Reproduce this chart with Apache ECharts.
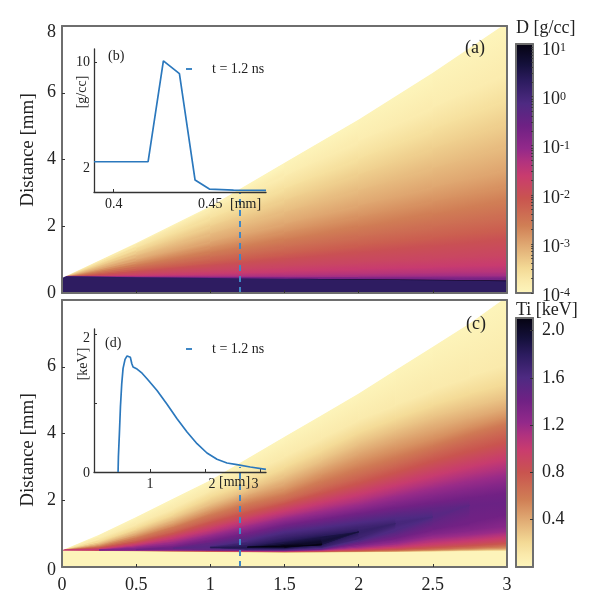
<!DOCTYPE html>
<html><head><meta charset="utf-8">
<style>html,body{margin:0;padding:0;background:#fff}#c{width:600px;height:610px}</style>
<script src="https://cdn.jsdelivr.net/npm/echarts@6/dist/echarts.min.js"></script>
</head><body><div id="c"></div>
<script>
const COLOR_STOPS = [[0,'#fdf5bc'],[.05,'#fae9ab'],[.10,'#f3d995'],[.19,'#e0aa73'],[.27,'#d07f55'],[.38,'#c9544f'],[.47,'#c93c6e'],[.53,'#b0327f'],[.58,'#93298a'],[.67,'#6f2184'],[.76,'#4e2a82'],[.85,'#2d1c60'],[.92,'#14103a'],[1,'#050312']];
const BOUNDARY_A = [.45,1.5,2.6,3.9,5.2,6.6,8.1];
const COLUMNS_A = [0,.5,1,1.5,2,2.5,3];
const D_LEVELS = [-3.8,-3.6,-3.4,-3.2,-3.0,-2.8,-2.6,-2.4,-2.2,-2.0,-1.8,-1.6,-1.4,-1.2,-0.7,0.3,0.9];
const D_UPPER = [
 [.45,1.45,2.5,3.5,4.55,5.55,6.6],
 [.45,1.34,2.23,3.12,4.02,4.91,5.8],
 [.45,1.22,2.0,2.78,3.55,4.33,5.1],
 [.45,1.11,1.77,2.42,3.08,3.74,4.4],
 [.45,.99,1.53,2.07,2.62,3.16,3.7],
 [.45,.91,1.37,1.82,2.28,2.74,3.2],
 [.45,.83,1.22,1.6,1.98,2.37,2.75],
 [.45,.76,1.07,1.37,1.68,1.99,2.3],
 [.45,.69,.93,1.17,1.42,1.66,1.9],
 [.45,.64,.83,1.02,1.22,1.41,1.6],
 [.45,.57,.68,.8,.92,1.03,1.15],
 [.45,.52,.58,.65,.72,.78,.85],
 [.47,.49,.52,.55,.58,.62,.65],
 [.5,.49,.49,.49,.5,.52,.53],
 [.5,.48,.47,.46,.45,.44,.43],
 [.5,.47,.45,.43,.41,.39,.37],
 [null,null,null,.43,.41,.395,.375]
];
const D_LOWER_BLACK = [null,null,null,.43,.395,.38,.355];

const COLUMNS_C = [0,.25,.5,.75,1,1.25,1.5,1.75,2,2.25,2.5,2.75,3];
const BOUNDARY_C = [.5,.97,1.5,2.05,2.6,3.25,3.9,4.55,5.2,5.9,6.6,7.3,8.1];
const TI_LEVELS = [.1,.2,.3,.4,.5,.6,.7,.8,.9,1.0,1.1,1.2,1.3,1.4,1.5,1.6,1.7,1.8,1.9,2.0,2.1];
const n = null;
const TI_UPPER = [
 [.5,.85,1.28,1.75,2.3,2.78,3.3,3.85,4.4,4.85,5.3,5.7,6.1],
 [.5,.76,1.15,1.58,2.1,2.5,2.98,3.5,4.03,4.45,4.85,5.2,5.5],
 [.5,.71,1.06,1.45,1.9,2.3,2.72,3.2,3.72,4.12,4.5,4.8,5.08],
 [.5,.67,.98,1.35,1.77,2.15,2.5,2.97,3.43,3.82,4.17,4.47,4.75],
 [.5,.64,.92,1.25,1.65,2.02,2.3,2.75,3.17,3.52,3.85,4.2,4.5],
 [.5,.61,.86,1.18,1.55,1.88,2.15,2.55,2.92,3.27,3.62,3.98,4.3],
 [.5,.59,.8,1.08,1.42,1.75,2.0,2.35,2.7,3.05,3.4,3.75,4.05],
 [.5,.57,.75,1.0,1.33,1.62,1.9,2.2,2.5,2.83,3.17,3.47,3.75],
 [.5,.55,.71,.94,1.22,1.5,1.78,2.05,2.33,2.63,2.95,3.23,3.5],
 [.5,.53,.67,.87,1.13,1.42,1.67,1.92,2.17,2.45,2.73,3.0,3.25],
 [n,.52,.63,.8,1.03,1.3,1.55,1.78,2.0,2.27,2.53,2.78,3.0],
 [n,.51,.6,.72,.95,1.2,1.45,1.65,1.85,2.1,2.33,2.55,2.75],
 [n,.51,.56,.66,.87,1.1,1.35,1.53,1.72,1.93,2.13,2.32,2.5],
 [n,n,.52,.6,.78,1.0,1.25,1.42,1.6,1.77,1.92,2.07,2.2],
 [n,n,n,.56,.7,.9,1.15,1.3,1.47,1.62,1.75,1.85,n],
 [n,n,n,n,.6,.8,1.05,1.18,1.33,1.46,1.5,n,n],
 [n,n,n,n,.6,.7,.92,1.05,1.18,1.3,n,n,n],
 [n,n,n,n,.58,.62,.8,.95,1.05,n,n,n,n],
 [n,n,n,n,n,.585,.72,.88,1.05,n,n,n,n],
 [n,n,n,n,n,.59,.66,.75,n,n,n,n,n],
 [n,n,n,n,n,.6,.635,.66,n,n,n,n,n]
];
const TI_LOWER = [
 [.49,.48,.47,.46,.45,.44,.43,.435,.44,.45,.46,.47,.48],
 [.5,.485,.475,.465,.455,.445,.435,.44,.45,.46,.47,.49,.5],
 [.5,.49,.48,.47,.46,.45,.44,.445,.455,.47,.48,.5,.52],
 [.5,.49,.48,.47,.46,.45,.445,.45,.46,.475,.49,.515,.54],
 [.5,.495,.485,.475,.465,.455,.45,.455,.47,.48,.5,.535,.57],
 [.5,.5,.49,.48,.47,.46,.455,.46,.475,.49,.52,.56,.61],
 [.5,.5,.49,.48,.475,.465,.46,.47,.485,.505,.54,.59,.65],
 [.5,.505,.495,.485,.48,.47,.465,.475,.49,.525,.58,.64,.71],
 [.5,.51,.5,.49,.485,.475,.47,.48,.51,.555,.63,.7,.79],
 [.5,.515,.5,.495,.49,.48,.475,.49,.53,.59,.69,.78,.88],
 [n,.52,.5,.5,.495,.485,.48,.5,.56,.64,.78,.87,.98],
 [n,.51,.505,.505,.5,.49,.485,.51,.6,.7,.88,.97,1.08],
 [n,.51,.51,.51,.505,.495,.49,.52,.64,.77,.98,1.1,1.25],
 [n,n,.52,.52,.51,.5,.495,.53,.69,.86,1.12,1.32,1.6],
 [n,n,n,.56,.515,.51,.505,.54,.74,.97,1.33,1.85,n],
 [n,n,n,n,.6,.52,.515,.56,.79,1.1,1.5,n,n],
 [n,n,n,n,.6,.53,.53,.59,.86,1.3,n,n,n],
 [n,n,n,n,.58,.55,.55,.63,1.05,n,n,n,n],
 [n,n,n,n,n,.585,.57,.68,1.05,n,n,n,n],
 [n,n,n,n,n,.59,.585,.75,n,n,n,n,n],
 [n,n,n,n,n,.6,.6,.66,n,n,n,n,n]
];
const DENSITY_X = [.3898,.4178,.4257,.434,.4421,.4495,.462,.4788];
const DENSITY_Y = [2.25,2.25,10.08,9.09,.83,.13,.05,.03];
const TI_X = [.418,.424,.442,.461,.485,.509,.545,.582,.612,.642,.667,.691,.764,.855,.945,1.127,1.309,1.491,1.673,1.855,2.036,2.218,2.4,2.582,2.824,3.109];
const TI_Y = [0,.217,.556,.942,1.28,1.5,1.63,1.68,1.68,1.66,1.57,1.52,1.49,1.43,1.35,1.18,.98,.77,.58,.41,.275,.184,.13,.106,.072,.039];
const TIME_NS = 1.2;
const DASH_Y = [0,3.0];
const X_TICKS = [0,.5,1,1.5,2,2.5,3];
const Y_TICKS_A = [0,2,4,6,8];
const Y_TICKS_C = [0,2,4,6];
const D_BAR_TICKS = [-4,-3,-2,-1,0,1];
const D_BAR_MINOR = [2,3,4,5,6,7,8,9];
const TI_BAR_TICKS = [.4,.8,1.2,1.6,2.0];

// ---- helpers ----
const FONT='Liberation Serif', INK='#222', FRAME='#6e6e6e', BLUE='#2b78bd', DASH='#3f87c5';
const hex=c=>[1,3,5].map(i=>parseInt(c.substr(i,2),16));
function cmap(t){t=Math.max(0,Math.min(1,t));
 for(let i=1;i<COLOR_STOPS.length;i++){if(t<=COLOR_STOPS[i][0]){const [a,ca]=COLOR_STOPS[i-1],[b,cb]=COLOR_STOPS[i];const f=(t-a)/(b-a),A=hex(ca),B=hex(cb);return 'rgb('+A.map((v,k)=>Math.round(v+(B[k]-v)*f)).join(',')+')';}}
 return COLOR_STOPS[COLOR_STOPS.length-1][1];}
const tD=v=>(v+4)/5.07, tTi=v=>v/2.106;
function gapPiece(a1,a2,b1,b2,c0,c1){
 let dx=(a2[0]-a1[0])+(b2[0]-b1[0]),dy=(a2[1]-a1[1])+(b2[1]-b1[1]);const L=Math.hypot(dx,dy)||1;
 const nx=-dy/L,ny=dx/L,ma=[(a1[0]+a2[0])/2,(a1[1]+a2[1])/2],mb=[(b1[0]+b2[0])/2,(b1[1]+b2[1])/2];
 const d=(mb[0]-ma[0])*nx+(mb[1]-ma[1])*ny;
 const fill={type:'linear',global:true,x:ma[0],y:ma[1],x2:ma[0]+nx*d,y2:ma[1]+ny*d+(Math.abs(d)<.01?.01:0),colorStops:[{offset:0,color:c0},{offset:1,color:c1}]};
 return {type:'polygon',shape:{points:[a1,a2,b2,b1]},style:{fill,stroke:fill,lineWidth:.6}};
}
function filled(name,xi,columns,layers){
 return {type:'custom',name,xAxisIndex:xi,yAxisIndex:xi,coordinateSystem:'cartesian2d',clip:true,silent:true,z:2,animation:false,
  data:layers.map((l,i)=>[i,i]),
  renderItem(p,api){const l=layers[p.dataIndex],up=[],lo=[],kids=[];
   columns.forEach((x,i)=>{if(l.upper[i]==null)return;up.push(api.coord([x,l.upper[i]]));lo.unshift(api.coord([x,l.lower[i]]));});
   kids.push({type:'polygon',shape:{points:up.concat(lo)},style:{fill:l.color}});
   const nx=l.next;
   if(nx){
    const ridge=i=>(l.upper[i]+l.lower[i])/2;
    const nu=i=>nx.upper[i]!=null?nx.upper[i]:ridge(i), nl=i=>nx.lower[i]!=null?nx.lower[i]:ridge(i);
    for(let i=0;i<columns.length-1;i++){
     if(l.upper[i]==null||l.upper[i+1]==null)continue;
     if(nx.upper[i]==null&&nx.upper[i+1]==null)continue;
     const open=nx.upper[i]==null||nx.upper[i+1]==null;
     const c=(x,y)=>api.coord([x,y]),x1=columns[i],x2=columns[i+1];
     if(!l.gradLower&&open)continue;
     const toColor=open?l.midColor:nx.color;
     kids.push(gapPiece(c(x1,l.upper[i]),c(x2,l.upper[i+1]),c(x1,nu(i)),c(x2,nu(i+1)),l.color,toColor));
     if(l.gradLower)kids.push(gapPiece(c(x1,l.lower[i]),c(x2,l.lower[i+1]),c(x1,nl(i)),c(x2,nl(i+1)),l.color,toColor));
   }}
   return {type:'group',children:kids};}
 };}
function colorbar(xi,minV,maxV){return {type:'custom',xAxisIndex:xi,yAxisIndex:xi,coordinateSystem:'cartesian2d',silent:true,z:2,animation:false,data:[[0,minV]],
  renderItem(p,api){const a=api.coord([0,maxV]),b=api.coord([1,minV]);
   return {type:'rect',shape:{x:a[0],y:a[1],width:b[0]-a[0],height:b[1]-a[1]},style:{fill:{type:'linear',x:0,y:1,x2:0,y2:0,colorStops:COLOR_STOPS.map(s=>({offset:s[0],color:s[1]}))}}};}};}

const zerosA=COLUMNS_A.map(()=>0), zerosC=COLUMNS_C.map(()=>0);
const layersA=[{upper:BOUNDARY_A,lower:zerosA,color:cmap(.005)}].concat(D_LEVELS.map((v,i)=>(
 {upper:D_UPPER[i],lower:i===D_LEVELS.length-1?D_LOWER_BLACK:zerosA,color:cmap(tD(v))})));
layersA.forEach((l,i)=>{const v=i?D_LEVELS[i-1]:-9; if(v<-0.8&&layersA[i+1]){l.next=layersA[i+1];}});
layersA.push({upper:COLUMNS_A.map(()=>9),lower:BOUNDARY_A,color:'#ffffff'});
const layersC=[{upper:BOUNDARY_C,lower:zerosC,color:cmap(.005)}].concat(TI_LEVELS.map((v,i)=>(
 {upper:TI_UPPER[i],lower:TI_LOWER[i],color:cmap(tTi(v)),midColor:cmap(tTi(v+.04)),gradLower:true})));
layersC.forEach((l,i)=>{if(layersC[i+1])l.next=layersC[i+1];});
layersC.push({upper:COLUMNS_C.map(()=>9),lower:BOUNDARY_C,color:'#ffffff'});
layersC.push({upper:TI_LOWER[0],lower:zerosC,color:cmap(.005)});

const grids=[
 {left:62,top:26,width:445,height:267},
 {left:62,top:300,width:445,height:267},
 {left:516,top:44,width:17,height:249},
 {left:516,top:318,width:17,height:249},
 {left:94,top:49,width:172,height:143},
 {left:94,top:329,width:172,height:143}
];
const lab={fontFamily:FONT,color:INK,fontSize:18};
const none={show:false};
const frame={lineStyle:{color:FRAME,width:2}};
const inset={show:true,lineStyle:{color:'#333',width:1.3}};
const insetLabel={fontFamily:FONT,color:INK,fontSize:14};
const xAxes=[
 {gridIndex:0,min:0,max:3,axisLine:frame,splitLine:none,axisLabel:none,axisTick:{inside:true,length:3,customValues:X_TICKS.slice(1,-1),lineStyle:{color:'#333'}},z:5},
 {gridIndex:1,min:0,max:3,axisLine:frame,splitLine:none,axisLabel:Object.assign({},lab,{margin:9,customValues:X_TICKS,formatter:v=>String(v),hideOverlap:false,showMinLabel:true,showMaxLabel:true}),axisTick:{inside:true,length:3,customValues:X_TICKS.slice(1,-1),lineStyle:{color:'#333'}},z:5},
 {gridIndex:2,min:0,max:1,axisLine:frame,splitLine:none,axisLabel:none,axisTick:none,z:5},
 {gridIndex:3,min:0,max:1,axisLine:frame,splitLine:none,axisLabel:none,axisTick:none,z:5},
 {gridIndex:4,min:.3898,max:.4788,axisLine:inset,splitLine:none,
  axisLabel:Object.assign({},insetLabel,{margin:5,customValues:[.4,.45],showMinLabel:true,showMaxLabel:true,hideOverlap:false,formatter:v=>String(v)}),
  axisTick:{inside:true,length:3,customValues:[.4],lineStyle:{color:'#333'}},z:6},
 {gridIndex:5,min:-.02,max:3.11,axisLine:inset,splitLine:none,
  axisLabel:Object.assign({},insetLabel,{margin:5,customValues:[1,2,3],hideOverlap:false,showMaxLabel:true,
   formatter:v=>v===2?'{a|2}':v===3?'{b|3}':'1',rich:{a:{padding:[0,0,0,14],fontFamily:FONT,fontSize:14,color:INK},b:{padding:[0,10,0,0],fontFamily:FONT,fontSize:14,color:INK}}}),
  axisTick:{inside:true,length:3,customValues:[1,2,3],lineStyle:{color:'#333'}},z:6},
 {gridIndex:0,position:'top',min:0,max:3,axisLine:frame,splitLine:none,axisLabel:none,axisTick:none,z:5},
 {gridIndex:1,position:'top',min:0,max:3,axisLine:frame,splitLine:none,axisLabel:none,axisTick:none,z:5},
 {gridIndex:2,position:'top',min:0,max:1,axisLine:frame,splitLine:none,axisLabel:none,axisTick:none,z:5},
 {gridIndex:3,position:'top',min:0,max:1,axisLine:frame,splitLine:none,axisLabel:none,axisTick:none,z:5}
];
const sup={fontFamily:FONT,fontSize:12,color:INK,verticalAlign:'top',padding:[0,0,5,0]};
const minorD=[];D_BAR_TICKS.slice(0,-1).forEach(e=>D_BAR_MINOR.forEach(m=>minorD.push(e+Math.log10(m))));
const yAxes=[
 {gridIndex:0,min:0,max:8,axisLine:frame,splitLine:none,
  axisLabel:Object.assign({},lab,{margin:6,customValues:Y_TICKS_A,showMaxLabel:true,showMinLabel:true,formatter:v=>v===8?'{e|8}':String(v),rich:{e:{padding:[12,0,0,0],fontFamily:FONT,fontSize:18,color:INK}}}),
  axisTick:{inside:true,length:3,customValues:Y_TICKS_A.slice(1,-1),lineStyle:{color:'#333'}},z:5},
 {gridIndex:1,min:0,max:8,axisLine:frame,splitLine:none,
  axisLabel:Object.assign({},lab,{margin:6,customValues:Y_TICKS_C,showMinLabel:true,formatter:v=>v===0?'{e|0}':String(v),rich:{e:{padding:[6,0,0,0],fontFamily:FONT,fontSize:18,color:INK}}}),
  axisTick:{inside:true,length:3,customValues:Y_TICKS_C.slice(1),lineStyle:{color:'#333'}},z:5},
 {gridIndex:2,position:'right',min:-4,max:1.07,axisLine:frame,splitLine:none,
  axisLabel:Object.assign({},lab,{margin:9,padding:[6,0,0,0],customValues:D_BAR_TICKS,showMinLabel:true,hideOverlap:false,formatter:v=>'10{s|'+v+'}',rich:{s:sup}}),
  axisTick:{inside:true,length:2,customValues:D_BAR_TICKS.concat(minorD),lineStyle:{color:'#333',width:.8}},z:5},
 {gridIndex:3,position:'right',min:0,max:2.106,axisLine:frame,splitLine:none,
  axisLabel:Object.assign({},lab,{margin:9,padding:[6,0,0,0],customValues:TI_BAR_TICKS,hideOverlap:false,formatter:v=>v.toFixed(1)}),
  axisTick:{inside:true,length:3,customValues:TI_BAR_TICKS,lineStyle:{color:'#333'}},z:5},
 {gridIndex:4,min:-.1,max:11,axisLine:inset,splitLine:none,
  axisLabel:Object.assign({},insetLabel,{margin:4,customValues:[2,10],hideOverlap:false,formatter:v=>v===2?'{a|2}':'10',rich:{a:{padding:[6,0,0,0],fontFamily:FONT,fontSize:14,color:INK}}}),
  axisTick:{inside:true,length:3,customValues:[10],lineStyle:{color:'#333'}},z:6},
 {gridIndex:5,min:0,max:2.07,axisLine:inset,splitLine:none,
  axisLabel:Object.assign({},insetLabel,{margin:4,customValues:[0,2],hideOverlap:false,showMinLabel:true,formatter:v=>v===2?'{a|2}':'{b|0}',rich:{a:{padding:[8,0,0,0],fontFamily:FONT,fontSize:14,color:INK},b:{padding:[3,0,0,0],fontFamily:FONT,fontSize:14,color:INK}}}),
  axisTick:{inside:true,length:3,customValues:[1,2],lineStyle:{color:'#333'}},z:6},
 {gridIndex:0,position:'right',min:0,max:8,axisLine:frame,splitLine:none,axisLabel:none,axisTick:none,z:5},
 {gridIndex:1,position:'right',min:0,max:8,axisLine:frame,splitLine:none,axisLabel:none,axisTick:none,z:5},
 {gridIndex:2,position:'left',min:-4,max:1.07,axisLine:frame,splitLine:none,axisLabel:none,axisTick:none,z:5},
 {gridIndex:3,position:'left',min:0,max:2.106,axisLine:frame,splitLine:none,axisLabel:none,axisTick:none,z:5}
];
xAxes.forEach(a=>{a.type='value';a.axisLine=Object.assign({onZero:false},a.axisLine);});
yAxes.forEach(a=>{a.type='value';a.axisLine=Object.assign({onZero:false},a.axisLine);});

const dash=i=>({type:'line',name:'t = 1.2 ns',xAxisIndex:i,yAxisIndex:i,showSymbol:false,symbol:'none',silent:true,z:4,animation:false,
  clip:false,data:DASH_Y.map(y=>[TIME_NS,y]),lineStyle:{color:DASH,width:2,type:[6,5]},itemStyle:{color:DASH}});
const curve=(i,xs,ys)=>({type:'line',name:'curve'+i,xAxisIndex:i,yAxisIndex:i,showSymbol:false,symbol:'none',silent:true,z:7,animation:false,clip:false,
  data:xs.map((x,k)=>[x,ys[k]]),lineStyle:{color:BLUE,width:1.7}});
const legendCommon={data:['t = 1.2 ns'],icon:'rect',itemWidth:6,itemHeight:2,selectedMode:false,left:186,padding:0,z:8,
  textStyle:{fontFamily:FONT,fontSize:14,color:INK,padding:[0,0,0,15]}};
const txt=(t,x,y,size,extra)=>({type:'text',z:20,x,y,rotation:extra&&extra.rot||0,style:{text:t,fontFamily:FONT,fontSize:size,fill:INK,align:extra&&extra.align||'left',verticalAlign:'middle'}});

const option={
 animation:false,backgroundColor:'#fff',
 grid:grids.map(g=>Object.assign({containLabel:false},g)),
 xAxis:xAxes,yAxis:yAxes,
 legend:[Object.assign({top:62},legendCommon),Object.assign({top:342},legendCommon)],
 series:[
  filled('D',0,COLUMNS_A,layersA),
  filled('Ti',1,COLUMNS_C,layersC),
  colorbar(2,-4,1.07),colorbar(3,0,2.106),
  dash(0),dash(1),
  curve(4,DENSITY_X,DENSITY_Y),curve(5,TI_X,TI_Y)
 ],
 graphic:[
  txt('Distance [mm]',28,150,19,{rot:Math.PI/2,align:'center'}),
  txt('Distance [mm]',28,450,19,{rot:Math.PI/2,align:'center'}),
  txt('(a)',465,48,18),txt('(c)',466,324,18),
  txt('(b)',108,56,14),txt('(d)',105,343,14),
  txt('D [g/cc]',516,28,18),txt('Ti [keV]',516,310,18),
  txt('[g/cc]',82,92,14,{rot:Math.PI/2,align:'center'}),
  txt('[keV]',83,364,14,{rot:Math.PI/2,align:'center'}),
  txt('[mm]',230,204,14),txt('[mm]',219,482,14)
 ]
};
const chart=echarts.init(document.getElementById('c'),null,{renderer:'canvas'});
chart.setOption(option);
</script></body></html>
